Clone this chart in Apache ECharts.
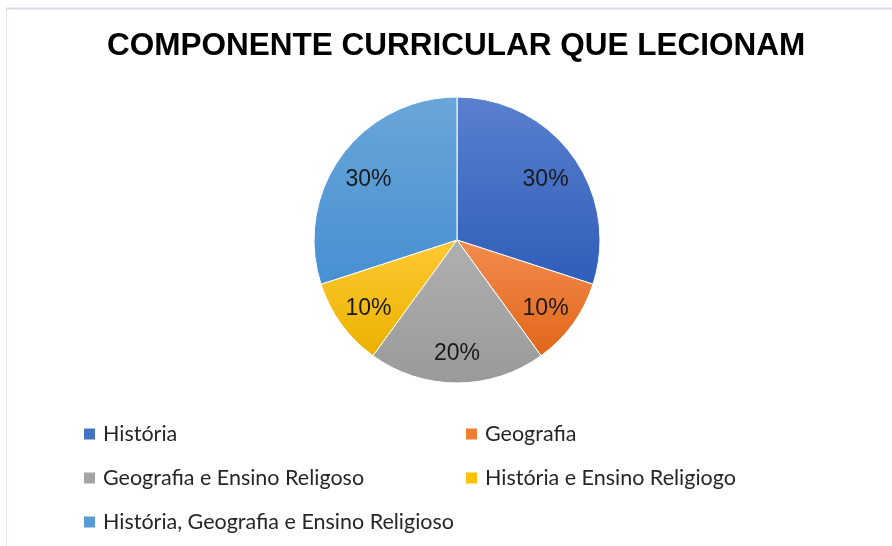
<!DOCTYPE html>
<html><head><meta charset="utf-8">
<script src="https://cdn.jsdelivr.net/npm/echarts@6/dist/echarts.min.js"></script>
<style>html,body{margin:0;padding:0;background:#fff}#c{width:892px;height:546px}</style>
</head><body><div id="c"></div>
<script>
const title = 'COMPONENTE CURRICULAR QUE LECIONAM';
const categories = ['História', 'Geografia', 'Geografia e Ensino Religoso', 'História e Ensino Religiogo', 'História, Geografia e Ensino Religioso'];
const values = [30, 10, 20, 10, 30];
const colorsTop = ['#5a80cf', '#f28c4e', '#b0b0b0', '#ffc933', '#6aa6d9'];
const colorsBottom = ['#2f5db8', '#e2661a', '#9a9a9a', '#eab200', '#4690d2'];
const colorsFlat = ['#4472c4', '#ed7d31', '#a5a5a5', '#ffc000', '#5b9bd5'];

const grad = i => new echarts.graphic.LinearGradient(0, 0, 0, 1, [
  {offset: 0, color: colorsTop[i]}, {offset: 1, color: colorsBottom[i]}]);

const mainData = categories.map((n, i) => ({name: n, value: values[i], itemStyle: {color: grad(i)}}));
const labelData = categories.map((n, i) => ({name: n, value: values[i]}));

const chart = echarts.init(document.getElementById('c'), null, {renderer: 'canvas'});
const legendText = {fontFamily: 'Lato', fontSize: 21.5, color: '#262626', lineHeight: 22, padding: [0, 0, 0, 2]};
chart.setOption({
  backgroundColor: '#fff',
  animation: false,
  title: {text: title, left: 102, top: 25,
    textStyle: {fontFamily: 'Liberation Sans', fontWeight: 'bold', fontSize: 31.5, color: '#000'}},
  legend: [
    {orient: 'vertical', left: 82, top: 423, padding: 0, height: 140, itemWidth: 13, itemHeight: 13, itemGap: 22, icon: 'rect',
     data: [0, 2, 4].map(i => ({name: categories[i], itemStyle: {color: colorsFlat[i]}})),
     textStyle: legendText, selectedMode: false},
    {orient: 'vertical', left: 464, top: 423, padding: 0, height: 140, itemWidth: 13, itemHeight: 13, itemGap: 22, icon: 'rect',
     data: [1, 3].map(i => ({name: categories[i], itemStyle: {color: colorsFlat[i]}})),
     textStyle: legendText, selectedMode: false}
  ],
  graphic: [
    {type: 'line', shape: {x1: 6, y1: 8.5, x2: 892, y2: 8.5}, style: {stroke: '#d9dde8', lineWidth: 2}},
    {type: 'line', shape: {x1: 6.5, y1: 8, x2: 6.5, y2: 546}, style: {stroke: '#e3e6ee', lineWidth: 1}}
  ],
  series: [
    {type: 'pie', center: [457, 240], radius: [0, 143], startAngle: 90, clockwise: true,
     label: {show: false}, labelLine: {show: false}, silent: true,
     itemStyle: {borderColor: '#fff', borderWidth: 1},
     data: mainData},
    {type: 'pie', center: [457, 240], radius: [70, 143], startAngle: 90, clockwise: true, silent: true,
     itemStyle: {color: 'rgba(0,0,0,0)'},
     label: {show: true, position: 'inside', formatter: '{d}%', offset: [0, 4], fontFamily: 'Liberation Sans', fontSize: 23, color: '#1a1a1a'},
     labelLine: {show: false},
     data: labelData}
  ]
});
</script></body></html>
